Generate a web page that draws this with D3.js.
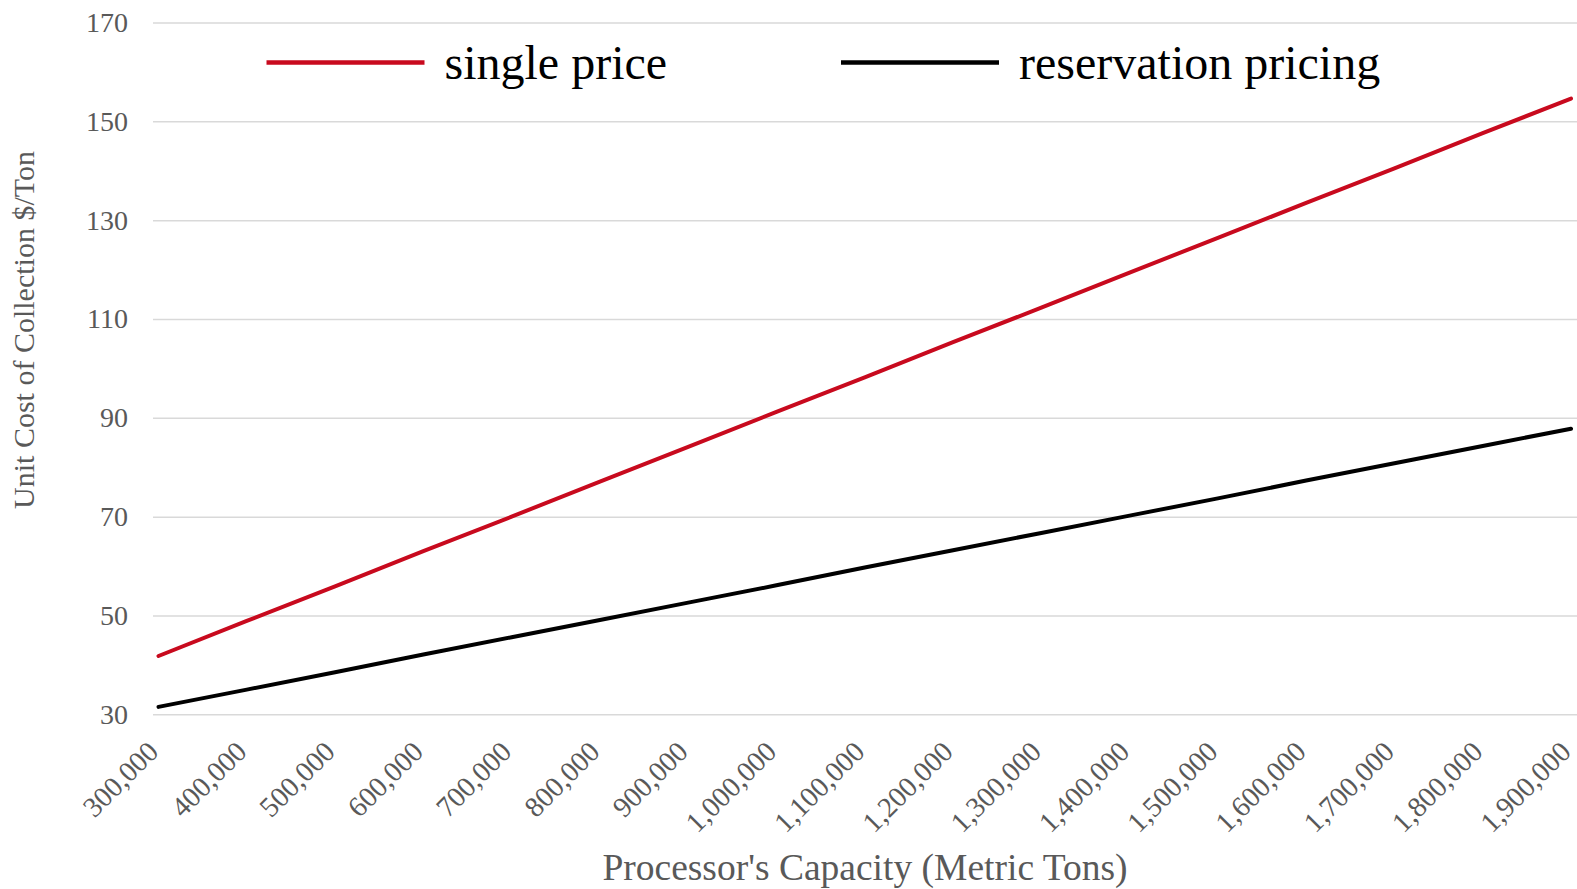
<!DOCTYPE html>
<html>
<head>
<meta charset="utf-8">
<script src="https://cdn.jsdelivr.net/npm/d3@7"></script>
<style>
  body { margin: 0; background: #fff; }
  svg { display: block; font-family: "Liberation Serif", "Times New Roman", serif; }
  .grid line { stroke: #d9d9d9; stroke-width: 1.5; }
  .line { fill: none; stroke-width: 4; stroke-linecap: round; stroke-linejoin: round; }
</style>
</head>
<body>
<script>
// datos
var capacidades = [300000, 400000, 500000, 600000, 700000, 800000, 900000, 1000000,
  1100000, 1200000, 1300000, 1400000, 1500000, 1600000, 1700000, 1800000, 1900000];
var precioUnico = [41.8, 48.9, 55.9, 63.0, 70.0, 77.1, 84.1, 91.2, 98.2,
  105.3, 112.3, 119.4, 126.4, 133.5, 140.5, 147.6, 154.6];
var reservacion = [31.5, 35.0, 38.5, 42.1, 45.6, 49.1, 52.6, 56.1, 59.7,
  63.2, 66.7, 70.2, 73.7, 77.3, 80.8, 84.3, 87.8];
var ticksY = [30, 50, 70, 90, 110, 130, 150, 170];
var series = ["single price", "reservation pricing"];
var colores = ["#c80a1e", "#000000"];

function hacerGrafico() {
  var W = 1577, H = 889;
  var plotLeft = 153, plotRight = 1577;

  var svg = d3.select("body").append("svg")
    .attr("width", W)
    .attr("height", H);

  // escalas
  var x = d3.scalePoint().domain(capacidades).range([158.5, 1571]);
  var y = d3.scaleLinear().domain([30, 170]).range([714.3, 22.5]);

  // eje Y con lineas de rejilla
  var ejeY = svg.append("g")
    .attr("class", "grid")
    .attr("transform", "translate(" + plotLeft + ",0)")
    .call(d3.axisLeft(y).tickValues(ticksY)
      .tickSize(-(plotRight - plotLeft)).tickPadding(25));
  ejeY.select(".domain").remove();
  ejeY.selectAll("text")
    .attr("fill", "#595959")
    .style("font-size", "28px")
    .style("font-family", "Liberation Serif");

  // eje X, etiquetas giradas
  var ejeX = svg.append("g")
    .attr("transform", "translate(0," + y(30) + ")")
    .call(d3.axisBottom(x).tickSize(0).tickFormat(d3.format(",")));
  ejeX.select(".domain").remove();
  ejeX.selectAll("text")
    .attr("fill", "#595959")
    .style("font-size", "28.5px")
    .style("font-family", "Liberation Serif")
    .attr("text-anchor", "end")
    .attr("dy", null)
    .attr("y", null)
    .attr("transform", "translate(1,39) rotate(-45)");

  // lineas
  var linea = function(vals) {
    return d3.line()
      .x(function(d, i) { return x(capacidades[i]); })
      .y(function(d) { return y(d); })(vals);
  };

  svg.append("path")
    .attr("class", "line")
    .style("stroke", colores[0])
    .attr("d", linea(precioUnico));

  svg.append("path")
    .attr("class", "line")
    .style("stroke", colores[1])
    .attr("d", linea(reservacion));

  // leyenda
  var leyX = [266.5, 841];
  series.forEach(function(s, i) {
    svg.append("line")
      .attr("x1", leyX[i]).attr("x2", leyX[i] + 158)
      .attr("y1", 62.5).attr("y2", 62.5)
      .style("stroke", colores[i])
      .style("stroke-width", 4.5);
    svg.append("text")
      .attr("x", leyX[i] + 178)
      .attr("y", 79)
      .style("font-size", "48px")
      .attr("fill", "#000")
      .text(s);
  });

  // titulos de ejes
  svg.append("text")
    .attr("x", 865)
    .attr("y", 880)
    .attr("text-anchor", "middle")
    .attr("fill", "#595959")
    .style("font-size", "37.5px")
    .text("Processor's Capacity (Metric Tons)");

  svg.append("text")
    .attr("transform", "translate(34,330) rotate(-90)")
    .attr("text-anchor", "middle")
    .attr("fill", "#595959")
    .style("font-size", "30px")
    .text("Unit Cost of Collection $/Ton");
}

hacerGrafico();
</script>
</body>
</html>
